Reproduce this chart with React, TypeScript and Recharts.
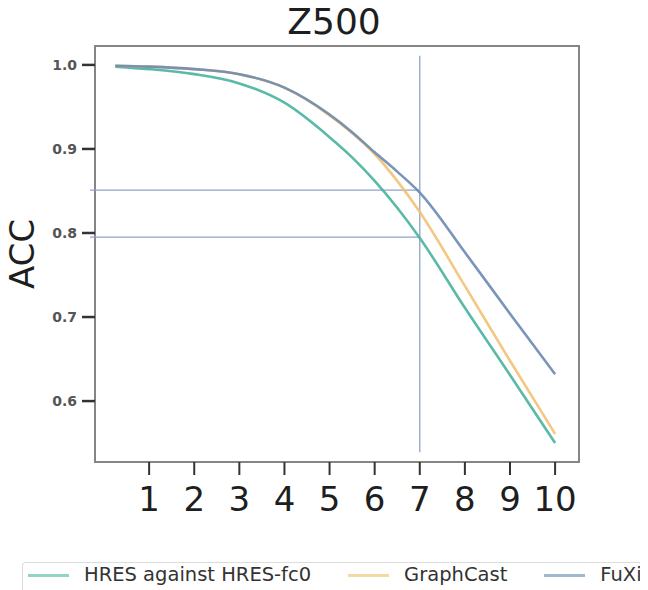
import React from 'react';
import { LineChart, Line, XAxis, YAxis, ReferenceLine, ReferenceArea } from 'recharts';

const leadDays = [0.25, 1, 2, 3, 4, 5, 5.5, 6, 6.5, 7, 8, 9, 10];
const hresAcc = [0.998, 0.995, 0.989, 0.978, 0.955, 0.914, 0.89, 0.862, 0.83, 0.794, 0.711, 0.631, 0.55];
const graphCastAcc = [0.999, 0.998, 0.995, 0.989, 0.973, 0.94, 0.919, 0.894, 0.862, 0.825, 0.737, 0.648, 0.561];
const fuxiAcc = [0.999, 0.998, 0.995, 0.989, 0.973, 0.941, 0.92, 0.896, 0.873, 0.848, 0.777, 0.704, 0.632];

const xTicks = [1, 2, 3, 4, 5, 6, 7, 8, 9, 10];
const yTicks = [0.6, 0.7, 0.8, 0.9, 1.0];

const seriesNames = ['HRES against HRES-fc0', 'GraphCast', 'FuXi'];
const seriesKeys = ['hres', 'graphcast', 'fuxi'];
const lineColors = ['#48b39e', '#f2c274', '#6c8ab2'];
const legendColors = ['#93d3c6', '#f4d9a3', '#a2b6cf'];

const titleText = 'Z500';
const yLabelText = 'ACC';
const markerDay = 7;
const markerLevels = [0.851, 0.795];

const xDomain = [-0.2, 10.53];
const yDomain = [0.5275, 1.0225];

const rows = leadDays.map((d, i) => ({
  day: d,
  hres: hresAcc[i],
  graphcast: graphCastAcc[i],
  fuxi: fuxiAcc[i],
}));

const FONT = '"DejaVu Sans", sans-serif';

export default function App() {
  return (
    <div style={{ position: 'relative', width: 640, height: 582, fontFamily: FONT }}>
      <div
        style={{
          position: 'absolute',
          top: -4,
          left: 0,
          width: 652,
          textAlign: 'center',
          fontSize: 36,
          lineHeight: '36px',
          color: '#1e1e1e',
          fontFamily: FONT,
        }}
      >
        {titleText}
      </div>
      <div
        style={{
          position: 'absolute',
          left: 14,
          top: 246,
          width: 0,
          height: 0,
        }}
      >
        <div
          style={{
            position: 'absolute',
            left: -50,
            top: -20,
            width: 100,
            height: 40,
            lineHeight: '40px',
            textAlign: 'center',
            fontSize: 34,
            color: '#1e1e1e',
            fontFamily: FONT,
            transform: 'rotate(-90deg)',
          }}
        >
          {yLabelText}
        </div>
      </div>
      <LineChart
        width={640}
        height={582}
        data={rows}
        margin={{ top: 38, right: 69, bottom: 68, left: 0 }}
      >
        <XAxis
          dataKey="day"
          type="number"
          domain={xDomain}
          allowDataOverflow
          ticks={xTicks}
          axisLine={false}
          tickLine={{ stroke: '#333', strokeWidth: 2 }}
          tickSize={13}
          tickMargin={12}
          height={60}
          tick={{ fontSize: 34, fill: '#1e1e1e', fontFamily: FONT }}
          interval={0}
        />
        <YAxis
          type="number"
          domain={yDomain}
          allowDataOverflow
          ticks={yTicks}
          width={87}
          axisLine={false}
          tickLine={{ stroke: '#333', strokeWidth: 2.5 }}
          tickSize={13}
          tickMargin={5}
          tickFormatter={(v: number) => v.toFixed(1)}
          tick={{ fontSize: 14, fill: '#555', fontWeight: 'bold', fontFamily: FONT }}
        />
        <ReferenceArea
          x1={xDomain[0]}
          x2={xDomain[1]}
          y1={yDomain[0]}
          y2={yDomain[1]}
          fill="none"
          fillOpacity={0}
          stroke="#858585"
          strokeWidth={2}
          ifOverflow="visible"
        />
        <ReferenceLine
          segment={[{ x: markerDay, y: 0.539 }, { x: markerDay, y: 1.011 }]}
          stroke="#8ea3c9"
          strokeWidth={1.3}
          ifOverflow="visible"
        />
        {markerLevels.map((lv) => (
          <ReferenceLine
            key={lv}
            segment={[{ x: -0.31, y: lv }, { x: markerDay, y: lv }]}
            stroke="#8ea3c9"
            strokeWidth={1.3}
            ifOverflow="visible"
          />
        ))}
        {seriesKeys.map((k, i) => (
          <Line
            key={k}
            dataKey={k}
            name={seriesNames[i]}
            type="monotone"
            stroke={lineColors[i]}
            strokeWidth={2.6}
            strokeOpacity={0.9}
            dot={false}
            activeDot={false}
            isAnimationActive={false}
          />
        ))}
      </LineChart>
      <div
        style={{
          position: 'absolute',
          top: 554,
          left: 14,
          width: 626,
          height: 28,
          borderTop: '1px solid #dcdcdc',
          borderLeft: '1px solid #dcdcdc',
          borderTopLeftRadius: 4,
          boxSizing: 'border-box',
          paddingLeft: 5,
        }}
      >
        <div style={{ display: 'flex', alignItems: 'center', height: 24, width: 640 }}>
          {seriesNames.map((n, i) => (
            <div
              key={n}
              style={{
                display: 'flex',
                alignItems: 'center',
                flexShrink: 0,
                marginRight: i < seriesNames.length - 1 ? 37 : 0,
              }}
            >
              <div style={{ width: 41, height: 3, background: legendColors[i], marginRight: 15, flexShrink: 0 }} />
              <span style={{ fontSize: 19.5, lineHeight: '24px', color: '#333', fontFamily: FONT, whiteSpace: 'nowrap' }}>
                {n}
              </span>
            </div>
          ))}
        </div>
      </div>
    </div>
  );
}
